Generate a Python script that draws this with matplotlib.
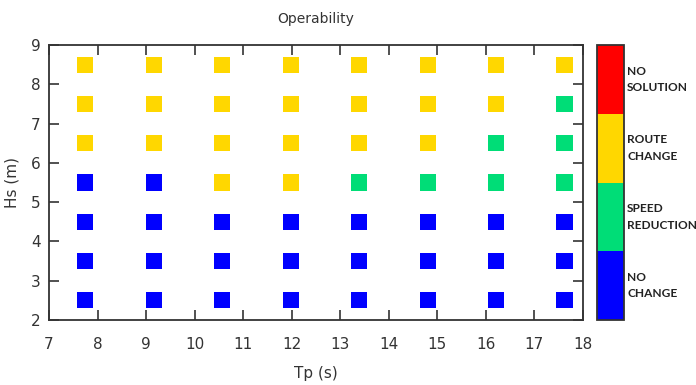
import matplotlib.pyplot as plt
import numpy as np
from matplotlib.colors import ListedColormap, BoundaryNorm

# wave period columns and significant wave height rows
tp = [7.75, 9.16, 10.57, 11.98, 13.39, 14.80, 16.21, 17.62]
hs = [2.5, 3.5, 4.5, 5.5, 6.5, 7.5, 8.5]

# operability class per (tp column, hs row): 0 no change, 1 speed reduction, 2 route change, 3 no solution
status = [
    [0, 0, 0, 0, 2, 2, 2],
    [0, 0, 0, 0, 2, 2, 2],
    [0, 0, 0, 2, 2, 2, 2],
    [0, 0, 0, 2, 2, 2, 2],
    [0, 0, 0, 1, 2, 2, 2],
    [0, 0, 0, 1, 2, 2, 2],
    [0, 0, 0, 1, 1, 2, 2],
    [0, 0, 0, 1, 1, 1, 2],
]
class_labels = ['NO\nCHANGE', 'SPEED\nREDUCTION', 'ROUTE\nCHANGE', 'NO\nSOLUTION']
class_colors = ['#0000FF', '#00DD77', '#FFD700', '#FF0000']

xs, ys, cs = [], [], []
for i, t in enumerate(tp):
    for j, h in enumerate(hs):
        xs.append(t)
        ys.append(h)
        cs.append(status[i][j])

cmap = ListedColormap(class_colors)
norm = BoundaryNorm([-0.5, 0.5, 1.5, 2.5, 3.5], cmap.N)

fig = plt.figure(figsize=(6.96, 3.85), dpi=100)
ax = fig.add_axes([0.0704, 0.1688, 0.7672, 0.7142])
ax.scatter(xs, ys, c=cs, cmap=cmap, norm=norm, marker='s', s=135, linewidths=0)

ax.set_xlim(7, 18)
ax.set_ylim(2, 9)
ax.set_xticks(range(7, 19))
ax.set_yticks(range(2, 10))
ax.tick_params(direction='in', length=7, width=1.2, top=True, right=True,
               labelsize=11, colors='#333333')
ax.tick_params(axis='x', pad=12)
ax.tick_params(axis='y', pad=6)
for sp in ax.spines.values():
    sp.set_linewidth(1.3)
    sp.set_color('#333333')

ax.set_title('Operability', fontsize=10, pad=16, color='#333333')
ax.set_xlabel('Tp (s)', fontsize=11, labelpad=10, color='#333333')
ax.set_ylabel('Hs (m)', fontsize=11, labelpad=8, color='#333333')

cax = fig.add_axes([0.8578, 0.1688, 0.0388, 0.7142])
cb = fig.colorbar(plt.cm.ScalarMappable(norm=norm, cmap=cmap), cax=cax)
cb.set_ticks([])
cb.minorticks_off()
cax.tick_params(length=0, which='both')
cb.outline.set_linewidth(1.3)
cb.outline.set_edgecolor('#333333')
for k, lab in enumerate(class_labels):
    cax.text(1.12, k, lab, transform=cax.get_yaxis_transform(), va='center', ha='left',
             fontsize=8.6, fontweight='bold', family=['Lato', 'DejaVu Sans'], color='#222222',
             linespacing=1.6)

fig.savefig('out.png', dpi=100)
